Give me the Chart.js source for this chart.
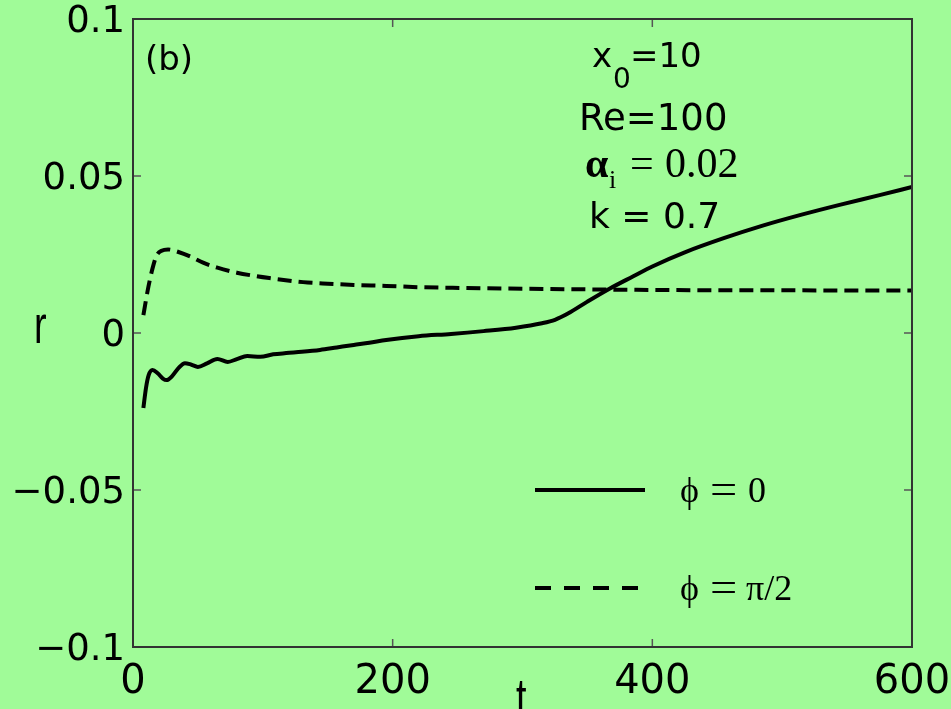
<!DOCTYPE html>
<html>
<head>
<meta charset="utf-8">
<script src="https://cdn.jsdelivr.net/npm/chart.js@4.4.0/dist/chart.umd.min.js"></script>
<style>
  html, body { margin: 0; padding: 0; background: #a0fb98; }
</style>
</head>
<body>
<canvas id="myChart" width="951" height="709"></canvas>
<script>
'use strict';

// DATA
let tSolid = [8, 10, 12, 15, 19, 23, 26, 30, 35, 40, 45, 50, 57, 65, 73, 80, 88, 98, 108, 118,
  130, 144, 157, 170, 182, 195, 220, 245, 270, 295, 315, 325, 335, 350, 367, 385, 400, 425,
  455, 485, 515, 545, 575, 600];
let rSolid = [-0.0239, -0.0175, -0.0135, -0.0118, -0.0128, -0.0145, -0.0150, -0.0138, -0.0112,
  -0.0096, -0.0101, -0.0108, -0.0097, -0.0083, -0.0092, -0.0083, -0.0073, -0.0076, -0.0068,
  -0.0064, -0.0060, -0.0054, -0.0046, -0.0038, -0.0031, -0.0022, -0.0010, -0.0003, 0.0006,
  0.0017, 0.0031, 0.0042, 0.0062, 0.0100, 0.0141, 0.0180, 0.0212, 0.0257, 0.0302, 0.0342,
  0.0377, 0.0409, 0.0439, 0.0465];

let tDashed = [8, 10, 12, 15, 18, 22, 27, 35, 45, 54, 65, 80, 95, 105, 131, 150, 170, 195,
  219, 245, 300, 350, 400, 500, 600];
let rDashed = [0.0057, 0.0105, 0.0150, 0.0205, 0.0245, 0.0262, 0.0266, 0.0258, 0.0242, 0.0224,
  0.0208, 0.0192, 0.0181, 0.0175, 0.0162, 0.0157, 0.0153, 0.0150, 0.0146, 0.0144, 0.0141,
  0.0139, 0.0137, 0.0136, 0.0135];

let xTicks = [0, 200, 400, 600];
let yTicks = [-0.1, -0.05, 0, 0.05, 0.1];
let seriesNames = ['\u03D5 = 0', '\u03D5 = \u03C0/2'];

// HELPERS
function toPoints(xs, ys) {
  return xs.map((x, i) => ({ x: x, y: ys[i] }));
}

function formatY(v) {
  let n = Math.round(v * 100) / 100;
  if (n === 0) return '0';
  return n < 0 ? '\u2212' + String(-n) : String(n);
}

function drawText(ctx, text, x, y, font, sx) {
  ctx.save();
  ctx.font = font;
  ctx.textBaseline = 'alphabetic';
  ctx.textAlign = 'left';
  ctx.translate(x, y);
  ctx.scale(sx || 1, 1);
  ctx.fillText(text, 0, 0);
  ctx.restore();
}

const SANS = '"DejaVu Sans", sans-serif';
const SERIF = '"Liberation Serif", "DejaVu Serif", serif';

// PLUGIN: background, box, inward ticks, legend and labels
let decorations = {
  id: 'decorations',
  beforeDraw(chart) {
    let ctx = chart.ctx;
    ctx.save();
    ctx.fillStyle = '#a0fb98';
    ctx.fillRect(0, 0, chart.width, chart.height);
    ctx.restore();
  },
  afterDatasetsDraw(chart) {
    let ctx = chart.ctx;
    let a = chart.chartArea;
    let xs = chart.scales.x;
    let ys = chart.scales.y;

    ctx.save();
    // ticks
    ctx.strokeStyle = '#555';
    ctx.lineWidth = 1.5;
    ctx.beginPath();
    yTicks.forEach(v => {
      let py = ys.getPixelForValue(v);
      ctx.moveTo(a.left, py); ctx.lineTo(a.left + 8, py);
      ctx.moveTo(a.right, py); ctx.lineTo(a.right - 8, py);
    });
    xTicks.forEach(v => {
      let px = xs.getPixelForValue(v);
      ctx.moveTo(px, a.bottom); ctx.lineTo(px, a.bottom - 8);
      ctx.moveTo(px, a.top); ctx.lineTo(px, a.top + 8);
    });
    ctx.stroke();

    // box
    ctx.strokeStyle = '#333';
    ctx.lineWidth = 2;
    ctx.strokeRect(a.left, a.top, a.right - a.left, a.bottom - a.top);

    // legend
    let ds = chart.data.datasets;
    ctx.strokeStyle = ds[0].borderColor;
    ctx.lineWidth = ds[0].borderWidth;
    ctx.setLineDash([]);
    ctx.beginPath();
    ctx.moveTo(535, 490); ctx.lineTo(645, 490);
    ctx.stroke();
    ctx.setLineDash([16, 13]);
    ctx.beginPath();
    ctx.moveTo(535, 588); ctx.lineTo(640, 588);
    ctx.stroke();
    ctx.setLineDash([]);

    ctx.fillStyle = '#000';
    drawText(ctx, '\u03D5', 680, 502, '36px ' + SERIF);
    drawText(ctx, '=', 710, 503, '42px ' + SERIF, 1.15);
    drawText(ctx, '0', 748, 502, '36px ' + SERIF);
    drawText(ctx, '\u03D5', 680, 600, '36px ' + SERIF);
    drawText(ctx, '=', 710, 601, '42px ' + SERIF, 1.15);
    drawText(ctx, '\u03C0/2', 746, 600, '36px ' + SERIF);

    // annotations
    drawText(ctx, '(b)', 145, 70, '34px ' + SANS);
    drawText(ctx, 'x', 592, 67, '34px ' + SANS);
    drawText(ctx, '0', 613, 88, '28px ' + SANS);
    drawText(ctx, '=10', 630, 67, '34px ' + SANS);
    drawText(ctx, 'Re=100', 579, 130, '37px ' + SANS);
    drawText(ctx, '\u03B1', 585, 177, 'bold 42px ' + SERIF);
    drawText(ctx, 'i', 609, 188, '26px ' + SERIF);
    drawText(ctx, '=', 630, 177, '42px ' + SERIF);
    drawText(ctx, '0.02', 665, 177, '42px ' + SERIF);
    drawText(ctx, 'k = 0.7', 589, 228, '36px ' + SANS);

    // axis titles
    drawText(ctx, 'r', 34, 343, '54px "Liberation Sans", sans-serif', 0.7);
    drawText(ctx, 't', 516, 716, '54px "Liberation Sans", sans-serif', 0.7);
    ctx.restore();
  }
};

// CHART
const ctx = document.getElementById('myChart').getContext('2d');
const myChart = new Chart(ctx, {
  type: 'line',
  data: {
    datasets: [{
      label: seriesNames[0],
      data: toPoints(tSolid, rSolid),
      borderColor: '#000',
      borderWidth: 4,
      pointRadius: 0,
      cubicInterpolationMode: 'monotone',
      fill: false
    },
    {
      label: seriesNames[1],
      data: toPoints(tDashed, rDashed),
      borderColor: '#000',
      borderWidth: 4,
      borderDash: [14, 7],
      pointRadius: 0,
      cubicInterpolationMode: 'monotone',
      fill: false
    }]
  },
  options: {
    responsive: false,
    animation: false,
    devicePixelRatio: 1,
    layout: { padding: { top: 19, right: 39, left: 0, bottom: 0 } },
    plugins: {
      legend: { display: false },
      tooltip: { enabled: false }
    },
    scales: {
      x: {
        type: 'linear',
        min: 0,
        max: 600,
        afterBuildTicks(scale) { scale.ticks = xTicks.map(v => ({ value: v })); },
        afterFit(scale) {
          scale.height = 62;
          scale.paddingLeft = 0;
          scale.paddingRight = 0;
        },
        grid: { display: false, drawTicks: false },
        border: { display: false },
        ticks: {
          color: '#000',
          padding: 12,
          maxRotation: 0,
          font: { family: 'DejaVu Sans', size: 40 }
        }
      },
      y: {
        type: 'linear',
        min: -0.1,
        max: 0.1,
        afterBuildTicks(scale) { scale.ticks = yTicks.map(v => ({ value: v })); },
        afterFit(scale) {
          scale.width = 133;
          scale.paddingTop = 0;
          scale.paddingBottom = 0;
        },
        grid: { display: false, drawTicks: false },
        border: { display: false },
        ticks: {
          color: '#000',
          padding: 8,
          labelOffset: 3,
          font: { family: 'DejaVu Sans', size: 37 },
          callback: value => formatY(value)
        }
      }
    }
  },
  plugins: [decorations]
});
</script>
</body>
</html>
